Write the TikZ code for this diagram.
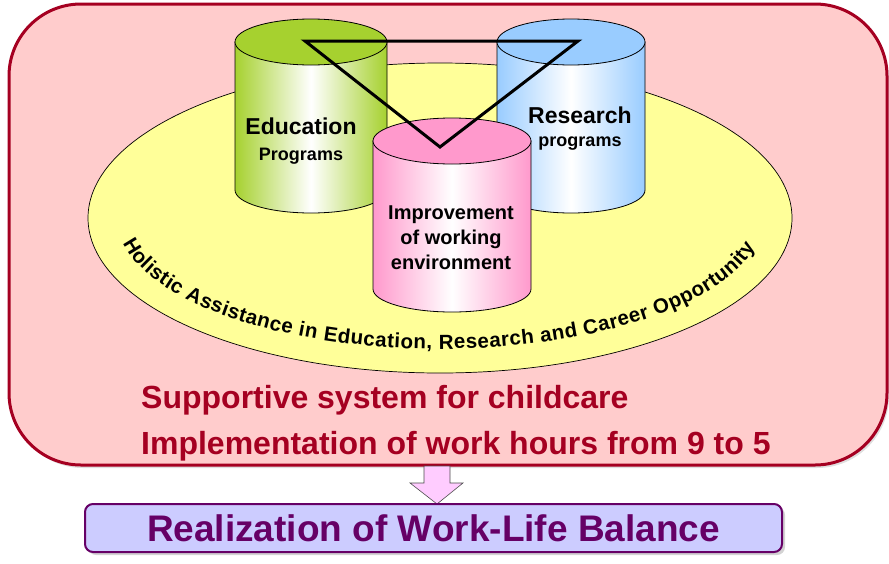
\documentclass[tikz,border=0pt]{standalone}
\usepackage{fontspec}
\setmainfont{Liberation Sans}
\usetikzlibrary{positioning,shadows,decorations.text}

\definecolor{rose}{HTML}{FFCCCC}
\definecolor{wine}{HTML}{A50021}
\definecolor{lemon}{HTML}{FFFF99}
\definecolor{leaf}{HTML}{A6D12F}
\definecolor{sky}{HTML}{99CCFF}
\definecolor{blush}{HTML}{FF99CC}
\definecolor{lilac}{HTML}{CCCCFF}
\definecolor{plum}{HTML}{660066}
\definecolor{candy}{HTML}{FFCCFF}

\begin{document}
\begin{tikzpicture}[x=1pt, y=1pt,
% Frame style
		frame/.style={rectangle
							    , rounded corners=72pt
							    , fill=rose
							    , draw=wine, line width=3pt
							    , minimum width=878pt
							    , minimum height=461pt
							    , drop shadow={shadow xshift=2pt, shadow yshift=-3pt, opacity=0.25}},
		goal/.style={rectangle
							    , rounded corners=8pt
							    , fill=lilac
							    , draw=plum, line width=2pt
							    , minimum width=697pt
							    , minimum height=48pt
							    , text=plum
							    , font=\fontsize{37}{37}\selectfont\bfseries
							    , drop shadow={shadow xshift=3pt, shadow yshift=-3pt, opacity=0.35}},
% Cylinder and text style
		cyl/.style={draw=black, line width=0.8pt},
		head/.style={font=\fontsize{23}{23}\selectfont\bfseries
							    , inner sep=0pt
							    , anchor=base},
		subhead/.style={font=\fontsize{18}{18}\selectfont\bfseries
							    , inner sep=0pt
							    , anchor=base},
		cyltext/.style={font=\fontsize{20}{25}\selectfont\bfseries
							    , align=center
							    , inner sep=0pt},
		remark/.style={font=\fontsize{32}{32}\selectfont\bfseries
							    , text=wine
							    , inner sep=0pt
							    , anchor=base west}
	]
\useasboundingbox (0,0) rectangle (889,-563);
%% Background frame and ellipse
	\node [frame] (frame) at (448,-234.5) {};
	\draw [fill=lemon, line width=0.7pt] (440,-218) ellipse [x radius=352, y radius=155];
%% Cylinders
	\begin{scope}[cyl]
		\foreach \cx/\rx/\yt/\yb/\col in {311/76/42/190/leaf, 571/74/42/190/sky, 452/79/141/289/blush}
		{
			\draw [left color=\col, right color=\col, middle color=white]
			    (\cx-\rx,-\yt) -- (\cx-\rx,-\yb) arc [start angle=180, end angle=360, x radius=\rx, y radius=23]
			    -- (\cx+\rx,-\yt) -- cycle;
			\draw [fill=\col] (\cx,-\yt) ellipse [x radius=\rx, y radius=23];
		}
	\end{scope}
	\draw [line width=3pt] (305,-41) -- (578,-41) -- (440,-147) -- cycle;
%% Texts on the cylinders
	\node [head] (edu) at (301,-134) {Education};
	\node [subhead] (eduprog) at (301,-160) {Programs};
	\node [head] (res) at (580,-123) {Research};
	\node [subhead] (resprog) at (580,-146) {programs};
	\node [cyltext] (impr) at (451,-238) {Improvement\\of working\\environment};
	\path [decorate, decoration={text along path, text align=fit to path
	        , text={|\bfseries\fontsize{20.5}{20.5}\selectfont|Holistic Assistance in Education{,} Research and Career Opportunity}}]
	    (440,-218) ++(191:323 and 131) arc [start angle=191, end angle=347, x radius=323, y radius=131];
%% Lines below
	\node [remark] (care) at (141,-408) {Supportive system for childcare};
	\node [remark, below=46pt of care.base west, anchor=base west] (hours) {Implementation of work hours from 9 to 5};
	\filldraw [fill=candy, draw=black!70, line width=0.6pt]
	    (424,-466) -- (424,-483) -- (410,-483) -- (437,-504) -- (463,-483) -- (450,-483) -- (450,-466) -- cycle;
	\node [goal] (wlb) at (433.5,-528) {Realization of Work-Life Balance};
\end{tikzpicture}
\end{document}
